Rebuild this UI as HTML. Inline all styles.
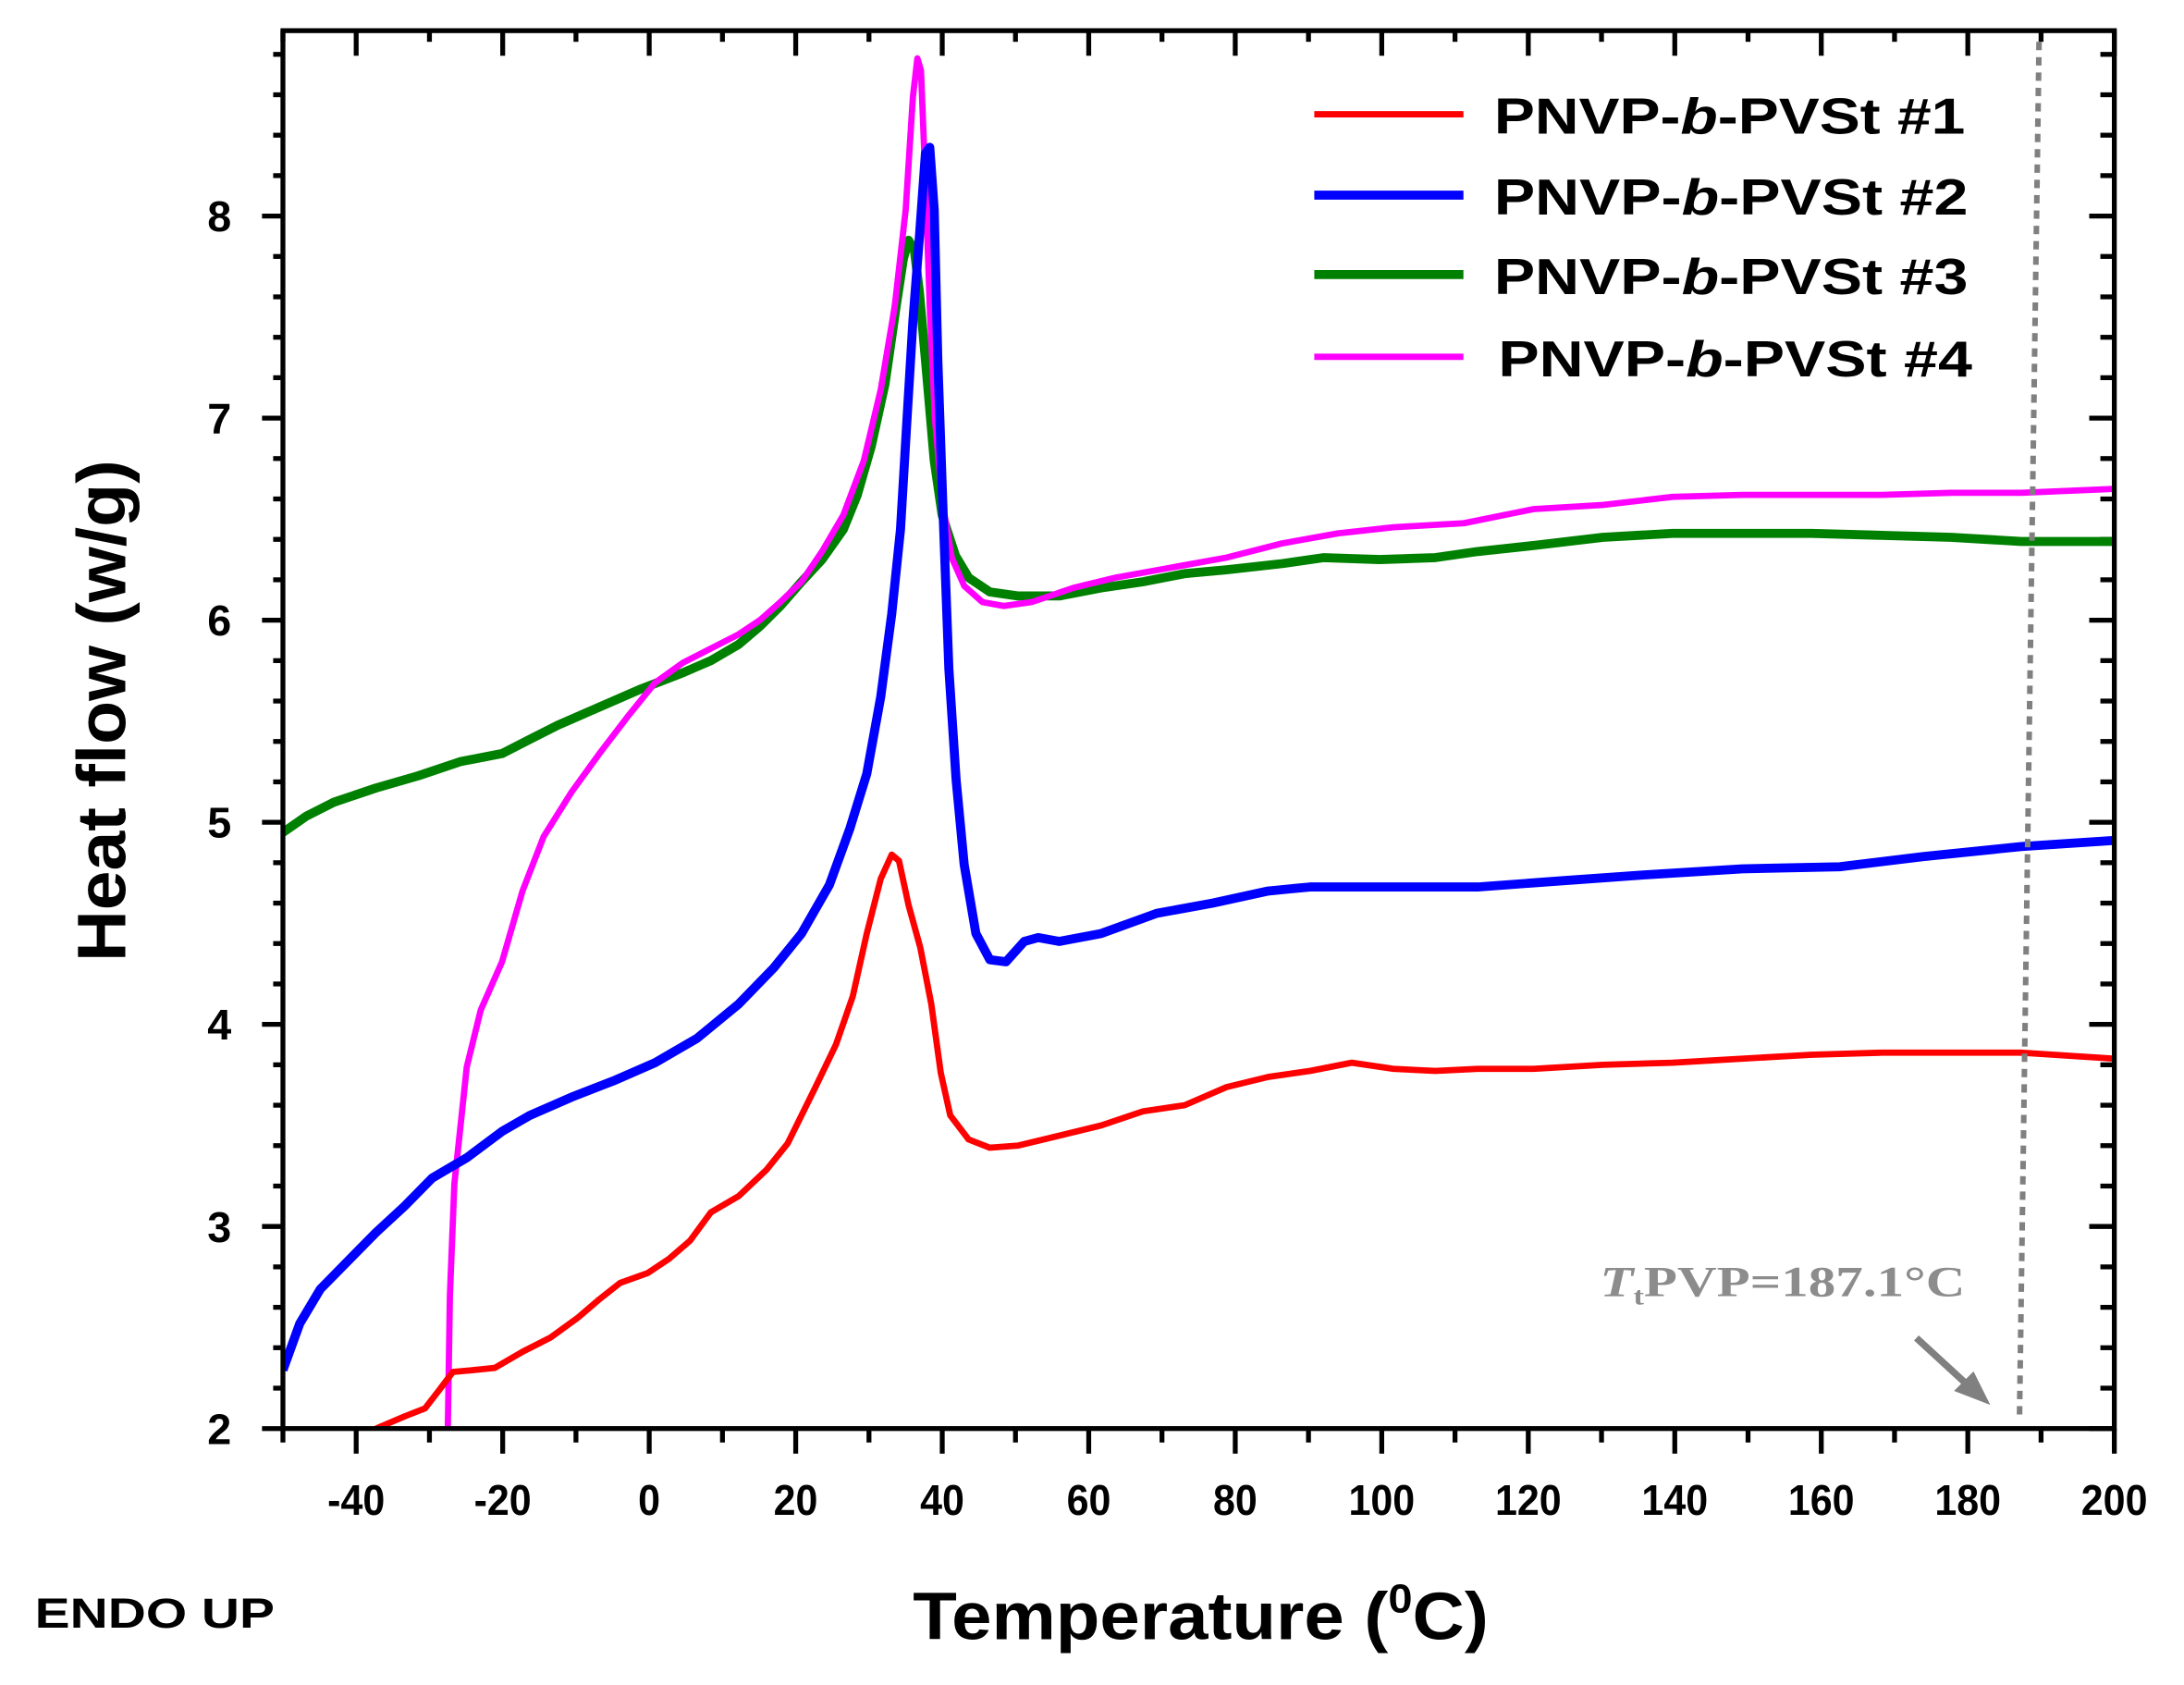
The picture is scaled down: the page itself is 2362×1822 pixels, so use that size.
<!DOCTYPE html>
<html><head><meta charset="utf-8"><style>
html,body{margin:0;padding:0;background:#fff}
svg{display:block}
text{font-family:"Liberation Sans",Arial,sans-serif;font-weight:bold}
</style></head><body>
<svg id="chart" width="2362" height="1822" viewBox="0 0 1567 1209" preserveAspectRatio="none" xmlns="http://www.w3.org/2000/svg">
<rect width="1567" height="1209" fill="#fff"/>
<g id="ticks"></g>
<g id="series" clip-path="url(#clip)"></g>
<defs><clipPath id="clip"><rect x="203" y="22" width="1314" height="1003"/></clipPath></defs>
<rect x="203" y="22" width="1314" height="1003" fill="none" stroke="#000" stroke-width="3.5"/>
<text transform="translate(90,510) rotate(-90)" text-anchor="middle" font-size="49" textLength="360" lengthAdjust="spacingAndGlyphs">Heat flow (w/g)</text>
<text x="655" y="1176" font-size="48" textLength="413" lengthAdjust="spacingAndGlyphs">Temperature (<tspan dy="-19" font-size="29">0</tspan><tspan dy="19">C)</tspan></text>
<text x="25" y="1168" font-size="30" textLength="172" lengthAdjust="spacingAndGlyphs">ENDO UP</text>
<g font-size="36">
<line x1="943" y1="82" x2="1050" y2="82" stroke="#ff0000" stroke-width="4.5"/>
<text x="1072" y="96" textLength="338" lengthAdjust="spacingAndGlyphs">PNVP-<tspan font-style="italic">b</tspan>-PVSt  #1</text>
<line x1="943" y1="140" x2="1050" y2="140" stroke="#0000ff" stroke-width="6.5"/>
<text x="1072" y="154" textLength="340" lengthAdjust="spacingAndGlyphs">PNVP-<tspan font-style="italic">b</tspan>-PVSt  #2</text>
<line x1="943" y1="197" x2="1050" y2="197" stroke="#008000" stroke-width="6.5"/>
<text x="1072" y="211" textLength="340" lengthAdjust="spacingAndGlyphs">PNVP-<tspan font-style="italic">b</tspan>-PVSt  #3</text>
<line x1="943" y1="256" x2="1050" y2="256" stroke="#ff00ff" stroke-width="4.5"/>
<text x="1075" y="270" textLength="340" lengthAdjust="spacingAndGlyphs">PNVP-<tspan font-style="italic">b</tspan>-PVSt  #4</text>
</g>
<line x1="1463" y1="30" x2="1449" y2="1015" stroke="#808080" stroke-width="4" stroke-dasharray="6,5"/>
<text x="1148" y="930" font-size="31" fill="#8c8c8c" style="font-family:'Liberation Serif',serif" textLength="262" lengthAdjust="spacingAndGlyphs"><tspan font-style="italic">T</tspan><tspan font-size="18" dy="6">t</tspan><tspan dy="-6">PVP=187.1°C</tspan></text>
<g>
<line x1="1375" y1="960" x2="1412" y2="994" stroke="#808080" stroke-width="5"/>
<polygon points="1428,1008 1402,998 1416,984" fill="#808080"/>
</g>
</svg>
<script>
const xTicks=[-40,-20,0,20,40,60,80,100,120,140,160,180,200];
const yTicks=[2,3,4,5,6,7,8];
const t1=[-37.3,-33.4,-30.6,-28.7,-26.8,-23.9,-21.1,-17.3,-13.5,-9.7,-6.8,-4.0,-0.2,2.7,5.6,8.4,12.2,16.0,18.9,22.7,25.5,27.8,29.7,31.6,33.1,34.1,35.4,37.0,38.5,39.8,41.1,43.6,46.5,50.3,56.0,61.7,67.4,73.1,78.8,84.5,90.2,95.9,101.6,107.3,113.1,120.7,130.2,139.7,149.2,158.7,168.2,177.7,187.3,200];
const h1=[2.0,2.06,2.10,2.19,2.28,2.29,2.30,2.38,2.45,2.55,2.64,2.72,2.77,2.84,2.93,3.07,3.15,3.28,3.41,3.69,3.90,4.14,4.45,4.72,4.84,4.81,4.59,4.38,4.10,3.76,3.55,3.43,3.39,3.40,3.45,3.50,3.57,3.60,3.69,3.74,3.77,3.81,3.78,3.77,3.78,3.78,3.80,3.81,3.83,3.85,3.86,3.86,3.86,3.83];
const t2=[-50,-47.7,-44.9,-41.1,-37.3,-33.4,-29.6,-24.9,-20.1,-16.3,-10.6,-4.9,0.8,6.5,12.2,17.0,20.8,24.6,27.4,29.7,31.6,33.1,34.3,35.2,36.0,36.9,37.7,38.3,38.9,39.4,40.2,40.9,41.9,43.0,44.6,46.5,48.7,51.2,53.1,56.0,61.7,69.3,76.9,84.5,90.2,101.6,113.1,124.5,135.9,149.2,162.5,173.9,187.3,200];
const h2=[2.29,2.52,2.69,2.83,2.97,3.10,3.24,3.34,3.47,3.55,3.64,3.72,3.81,3.93,4.10,4.28,4.45,4.69,4.97,5.24,5.62,6.03,6.45,7.0,7.48,7.90,8.31,8.34,8.03,7.28,6.45,5.76,5.21,4.79,4.45,4.32,4.31,4.41,4.43,4.41,4.45,4.55,4.60,4.66,4.68,4.68,4.68,4.71,4.74,4.77,4.78,4.83,4.88,4.91];
const t3=[-50,-46.8,-43.0,-37.3,-31.5,-25.8,-20.1,-16.3,-12.5,-6.8,-1.1,4.6,8.4,12.2,15.1,17.9,20.8,23.6,26.5,28.4,30.3,32.2,33.7,34.7,35.4,36.2,36.9,37.9,38.9,40.0,41.8,43.6,46.5,50.3,56.0,61.7,67.4,73.1,78.8,86.4,92.1,99.7,107.3,113.1,120.7,130.2,139.7,149.2,158.7,168.2,177.7,187.3,200];
const h3=[4.95,5.03,5.10,5.17,5.23,5.30,5.34,5.41,5.48,5.57,5.66,5.74,5.80,5.88,5.97,6.07,6.19,6.30,6.45,6.62,6.86,7.17,7.55,7.79,7.88,7.83,7.62,7.21,6.79,6.52,6.32,6.21,6.14,6.12,6.12,6.16,6.19,6.23,6.25,6.28,6.31,6.30,6.31,6.34,6.37,6.41,6.43,6.43,6.43,6.42,6.41,6.39,6.39];
const t4=[-27.5,-27.2,-26.6,-24.9,-23.0,-20.1,-17.3,-14.4,-10.6,-6.8,-3.0,0.8,4.6,8.4,12.2,15.1,17.9,20.8,23.6,26.5,29.3,31.6,33.5,35.0,36.0,36.6,37.1,37.7,38.3,39.0,40.0,41.3,43.0,45.5,48.4,52.2,57.9,63.6,71.2,78.8,86.4,94.0,101.6,111.2,120.7,130.2,139.7,149.2,158.7,168.2,177.7,187.3,200];
const h4=[2.0,2.66,3.21,3.79,4.07,4.31,4.66,4.93,5.15,5.34,5.52,5.69,5.79,5.86,5.93,6.0,6.09,6.19,6.34,6.52,6.79,7.14,7.55,8.03,8.59,8.78,8.72,8.17,7.55,7.0,6.59,6.31,6.17,6.09,6.07,6.09,6.16,6.21,6.26,6.31,6.38,6.43,6.46,6.48,6.55,6.57,6.61,6.62,6.62,6.62,6.63,6.63,6.65];

const X=t=>203+(t+50)*5.256;
const Y=h=>1025-(h-2)*145;
const NS='http://www.w3.org/2000/svg';
const tg=document.getElementById('ticks');
function ln(x1,y1,x2,y2,w){const l=document.createElementNS(NS,'line');l.setAttribute('x1',x1);l.setAttribute('y1',y1);l.setAttribute('x2',x2);l.setAttribute('y2',y2);l.setAttribute('stroke','#000');l.setAttribute('stroke-width',w);tg.appendChild(l);return l;}
for(let t=-50;t<=200;t+=10){
  const major=(t%20===0);const x=X(t);
  const b=ln(x,1025,x,major?1043:1035,3.5);
  
  
  const tp=ln(x,22,x,major?40:30,3.5);
  
  
}
xTicks.forEach(t=>{
  const tx=document.createElementNS(NS,'text');
  tx.setAttribute('x',X(t));tx.setAttribute('y',1087);tx.setAttribute('text-anchor','middle');tx.setAttribute('font-size','31');
  tx.setAttribute('transform','translate('+X(t)+',0) scale(0.92,1) translate('+(-X(t))+',0)');
  tx.textContent=t;
  
  
  tg.appendChild(tx);
});
for(let i=0;i<=34;i++){
  const h=2+i*0.2;const y=Y(h);if(y<22)break;const major=(i%5===0);
  const l=ln(major?188:196,y,203,y,3.5);
  
  
  const r=ln(1517,y,major?1499:1507,y,3.5);
  
  
}
yTicks.forEach(h=>{
  const tx=document.createElementNS(NS,'text');
  tx.setAttribute('x',166);tx.setAttribute('y',Y(h)+11);tx.setAttribute('text-anchor','end');tx.setAttribute('font-size','31');
  tx.textContent=h;
  
  
  tg.appendChild(tx);
});
const sg=document.getElementById('series');
function series(ts,hs,color,w,name){
  const p=document.createElementNS(NS,'path');
  p.setAttribute('d',ts.map((t,i)=>(i?'L':'M')+X(t).toFixed(1)+' '+Y(hs[i]).toFixed(1)).join(''));
  p.setAttribute('fill','none');p.setAttribute('stroke',color);p.setAttribute('stroke-width',w);p.setAttribute('stroke-linejoin','round');
  
  
  sg.appendChild(p);
}
series(t3,h3,'#008000',6.5,'series-3-line');
series(t4,h4,'#ff00ff',4.5,'series-4-line');
series(t2,h2,'#0000ff',6.5,'series-2-line');
series(t1,h1,'#ff0000',4.5,'series-1-line');
</script>
</body></html>
